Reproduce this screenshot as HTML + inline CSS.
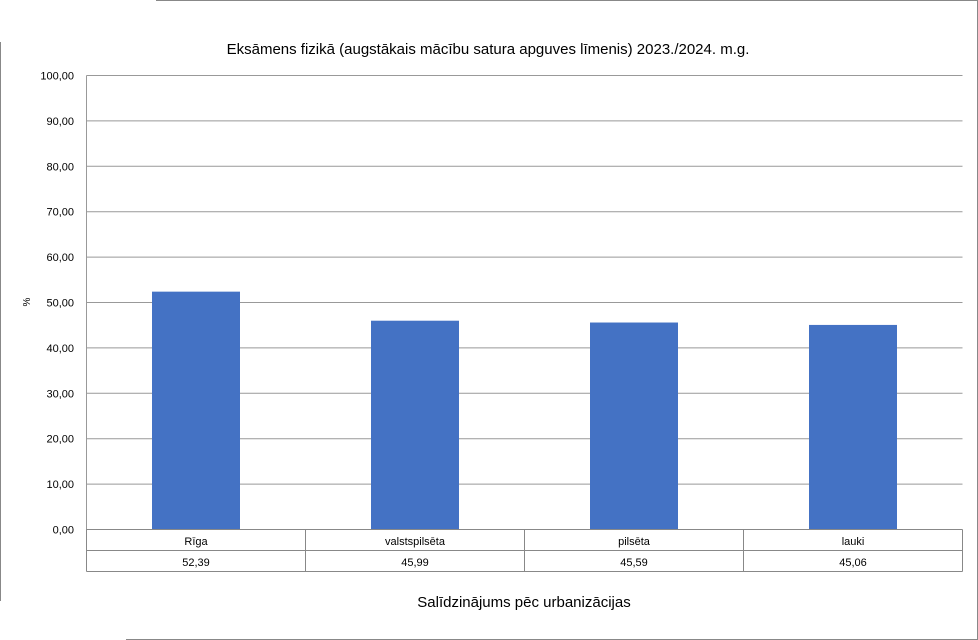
<!DOCTYPE html>
<html><head><meta charset="utf-8"><style>
body{margin:0;background:#fff;}
svg{display:block;font-family:"Liberation Sans",sans-serif;}
</style></head><body>
<svg width="978" height="640">
<line x1="156" y1="0.5" x2="978" y2="0.5" stroke="#888"/>
<line x1="0.5" y1="42" x2="0.5" y2="601" stroke="#888"/>
<line x1="977.5" y1="0" x2="977.5" y2="640" stroke="#888"/>
<line x1="126" y1="639.5" x2="978" y2="639.5" stroke="#888"/>
<text x="488" y="54" text-anchor="middle" font-size="15" fill="#000">Eksāmens fizikā (augstākais mācību satura apguves līmenis) 2023./2024. m.g.</text>
<text x="30" y="302" text-anchor="middle" font-size="10" transform="rotate(-90 30 302)">%</text>
<text x="524" y="607" text-anchor="middle" font-size="15">Salīdzinājums pēc urbanizācijas</text>
<g id="grid"></g><g id="bars"></g><g id="table"></g>
</svg>
<script>
const categories=["Rīga","valstspilsēta","pilsēta","lauki"];
const values=[52.39,45.99,45.59,45.06];
const ticks=[0,10,20,30,40,50,60,70,80,90,100];
const L=86.5,R=962.5,Y0=529.5,Y100=75.5;
const y=v=>Y0-(v/100)*(Y0-Y100);
const cw=(R-L)/categories.length;
const NS="http://www.w3.org/2000/svg";
function mk(t,a,p){const e=document.createElementNS(NS,t);for(const k in a)e.setAttribute(k,a[k]);p.appendChild(e);return e;}
const g=document.getElementById("grid");
ticks.forEach(t=>{
 const l=mk("line",{x1:L,x2:R,y1:y(t),y2:y(t),stroke:"#999"},g);
 
 
 const tx=mk("text",{x:74,y:y(t)+4,"text-anchor":"end","font-size":"11"},g);
 tx.textContent=t.toFixed(2).replace(".",",");
 
 
});
const la=mk("line",{x1:L,x2:L,y1:Y100,y2:Y0,stroke:"#999"},g);


const b=document.getElementById("bars"),tb=document.getElementById("table");
const bw=88;
categories.forEach((c,i)=>{
 const cx=L+cw*(i+0.5);
 const r=mk("rect",{x:cx-bw/2,y:y(values[i]),width:bw,height:Y0-y(values[i]),fill:"#4472c4"},b);
 
 
 const t1=mk("text",{x:cx,y:545,"text-anchor":"middle","font-size":"11"},tb);
 t1.textContent=c;
 
 
 const t2=mk("text",{x:cx,y:566,"text-anchor":"middle","font-size":"11"},tb);
 t2.textContent=values[i].toFixed(2).replace(".",",");
 
 
});
[Y0,550.5,571.5].forEach(yy=>{
 const l=mk("line",{x1:L,x2:R,y1:yy,y2:yy,stroke:"#888"},tb);
 
 
});
for(let i=0;i<=categories.length;i++){
 const x=L+cw*i;
 const l=mk("line",{x1:x,x2:x,y1:Y0,y2:571.5,stroke:"#888"},tb);
 
 
}
</script>
</body></html>
